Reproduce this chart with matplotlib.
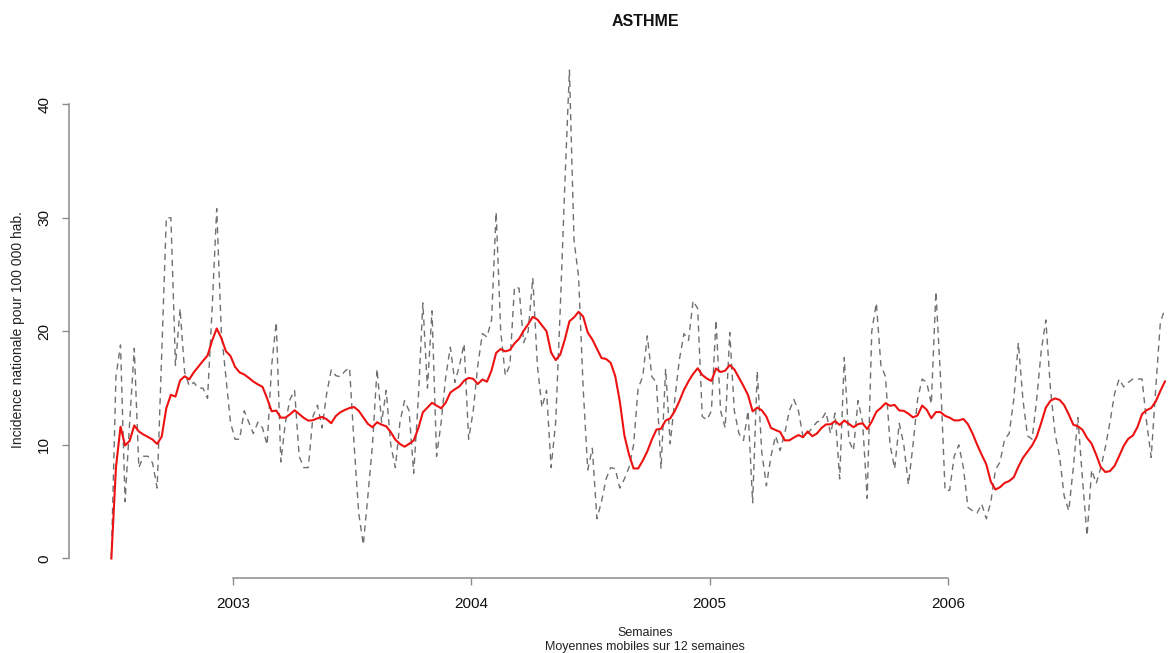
import numpy as np
import pandas as pd
import matplotlib
matplotlib.use("Agg")
import matplotlib.pyplot as plt

plt.rcParams["font.family"] = ["Liberation Sans", "DejaVu Sans"]

# Weekly incidence (per 100 000 inhabitants), series starting late June 2002
incid_2002 = [0, 16, 18.8, 5, 12, 18.5, 8, 9, 9, 8.4, 6.2, 18, 30, 30, 17, 22,
              16.4, 15.2, 15.5, 15, 15, 14.1, 22, 30.8, 20, 16, 12]
incid_2003 = [10.5, 10.5, 13, 12, 11, 12, 11.5, 10, 17, 20.8, 8.5, 12, 14,
              14.8, 9, 8, 8, 12.5, 13.5, 11.5, 14.5, 16.6, 16.1, 16, 16.5,
              16.8, 10, 4, 1.2, 5.5, 10, 16.7, 12, 14.8, 10, 8, 12, 13.9, 13,
              7.5, 14, 22.5, 15, 21.8, 9, 12, 16, 18.6, 15.5, 17, 18.9, 10.5]
incid_2004 = [13, 17, 19.8, 19.5, 21, 30.5, 20, 16.1, 17, 23.9, 23.8, 19, 20,
              24.7, 17, 13.3, 14.8, 8, 12, 22, 33, 43, 28, 24.8, 15, 7.8, 9.7,
              3.5, 5, 7, 8, 7.9, 6.2, 7, 8, 10, 15, 16, 19.6, 16, 15.5, 7.9,
              16.7, 10.1, 14, 17.5, 19.8, 19.2, 22.7, 22, 12.5, 12.2]
incid_2005 = [13, 21, 13, 11.5, 19.9, 13, 11, 10.4, 13, 4.9, 16.5, 9.3, 6.4,
              9, 10.8, 9.5, 11, 13, 14, 13, 10.7, 11, 11.5, 12, 12.2, 12.9, 11,
              12.8, 7, 17.7, 10.4, 9.5, 13.9, 12, 5.3, 20, 22.5, 17, 16, 10,
              7.9, 11.9, 10, 6.5, 10, 14, 15.8, 15.5, 13.6, 23.5, 16, 6]
incid_2006 = [6, 9, 10, 8, 4.5, 4.2, 4, 4.8, 3.5, 5, 7.8, 8.5, 10.5, 11, 14,
              19, 14, 10.8, 10.5, 14, 18.3, 21, 15, 11, 9, 5.5, 4.2, 8, 12.4,
              7, 2, 7.8, 6.6, 8, 9.8, 12, 14.5, 15.8, 15.1, 15.5, 15.8, 15.8,
              15.8, 12, 8.9, 15, 20.8, 22]

incidence = np.array(incid_2002 + incid_2003 + incid_2004 + incid_2005 + incid_2006)

# 12-week trailing moving average
window = 12
moving_avg = pd.Series(incidence).rolling(window, min_periods=1).mean().to_numpy()

# Time axis as a weekly series (52 weeks per year)
start = 2002 + 25.4 / 52
t = start + np.arange(len(incidence)) / 52

year_ticks = [2003, 2004, 2005, 2006]
y_ticks = [0, 10, 20, 30, 40]

W, H = 1168, 653
fig = plt.figure(figsize=(W / 100, H / 100), dpi=100)

span_x = t[-1] - t[0]
xlim = (t[0] - 0.04 * span_x, t[-1] + 0.04 * span_x)
ymax = incidence.max()
ylim = (-0.04 * ymax, ymax * 1.04)

px_per_year = 238.2
px_2003 = 233.2
left_px = px_2003 + (xlim[0] - 2003) * px_per_year
right_px = px_2003 + (xlim[1] - 2003) * px_per_year
bottom_px, top_px = 578.0, 50.6

ax = fig.add_axes([left_px / W, 1 - bottom_px / H,
                   (right_px - left_px) / W, (bottom_px - top_px) / H])
ax.set_xlim(*xlim)
ax.set_ylim(*ylim)

ax.plot(t, incidence, color="#707070", lw=1.0, linestyle=(0, (4.5, 3.5)),
        clip_on=False)
ax.plot(t, moving_avg, color="#ee1111", lw=1.5, clip_on=False)

axis_col = "#8c8c8c"
for side in ("top", "right"):
    ax.spines[side].set_visible(False)
ax.spines["left"].set_bounds(0, 40)
ax.spines["bottom"].set_bounds(2003, 2006)
for side in ("left", "bottom"):
    ax.spines[side].set_color(axis_col)
    ax.spines[side].set_linewidth(1.1)

ax.set_xticks(year_ticks)
ax.set_xticklabels([str(y) for y in year_ticks])
ax.set_yticks(y_ticks)
ax.set_yticklabels([str(v) for v in y_ticks])
ax.tick_params(axis="both", direction="out", length=5, width=1.0,
               color=axis_col, labelsize=11, labelcolor="#111111")
ax.tick_params(axis="x", pad=9)
ax.tick_params(axis="y", pad=8)
for lbl in ax.get_yticklabels():
    lbl.set_rotation(90)
    lbl.set_va("center")

fig.text(645 / W, 1 - 22 / H, "ASTHME", ha="center", va="center",
         fontsize=11.5, fontweight="bold", color="#111111")
fig.text(645 / W, 1 - 633 / H, "Semaines", ha="center", va="center",
         fontsize=9, color="#222222")
fig.text(645 / W, 1 - 647 / H, "Moyennes mobiles sur 12 semaines",
         ha="center", va="center", fontsize=9, color="#222222")
fig.text(18 / W, 1 - 330 / H, "Incidence nationale pour 100 000 hab.",
         rotation=90, ha="center", va="center", fontsize=10,
         color="#222222")

fig.savefig("out.png", dpi=100, facecolor="white")
